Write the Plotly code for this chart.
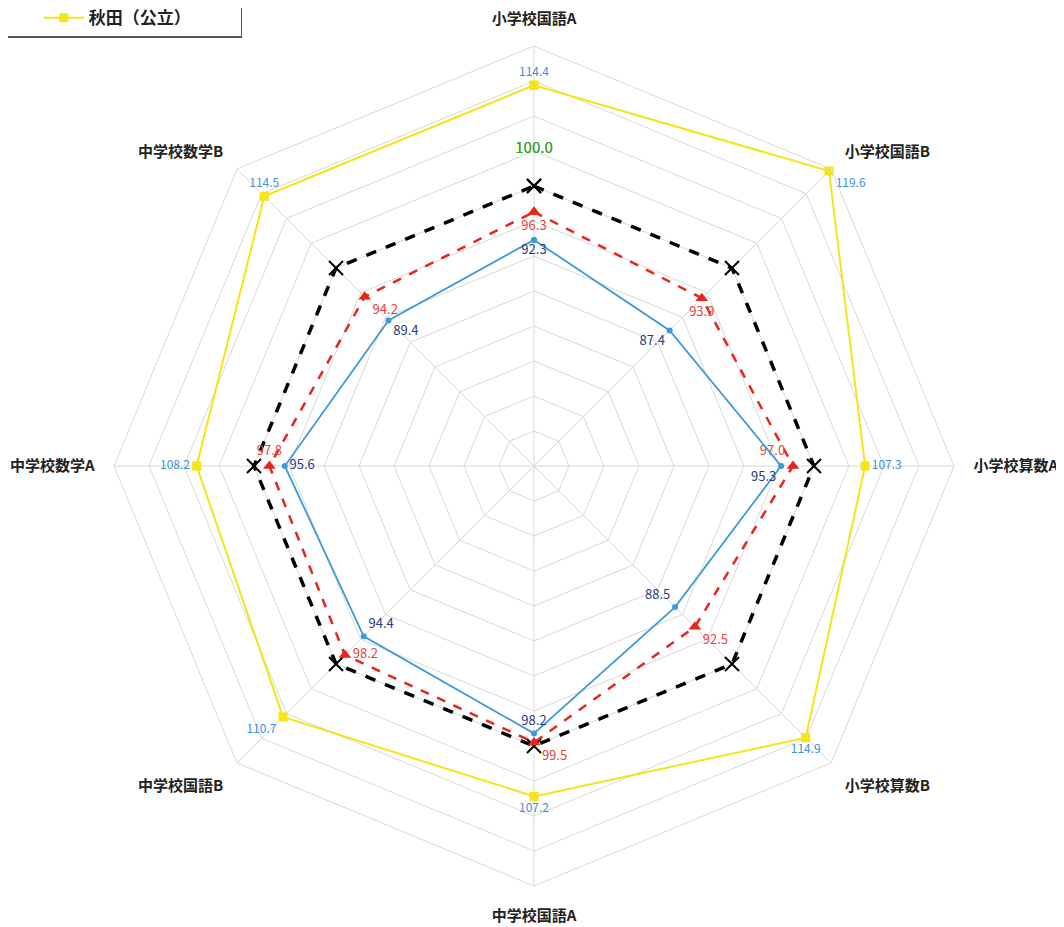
import plotly.graph_objects as go

categories = ["小学校国語A", "小学校国語B", "小学校算数A", "小学校算数B",
              "中学校国語A", "中学校国語B", "中学校数学A", "中学校数学B"]
national = [100.0, 100.0, 100.0, 100.0, 100.0, 100.0, 100.0, 100.0]
red_vals = [96.3, 93.9, 97.0, 92.5, 99.5, 98.2, 97.8, 94.2]
blue_vals = [92.3, 87.4, 95.3, 88.5, 98.2, 94.4, 95.6, 89.4]
akita_vals = [114.4, 119.6, 107.3, 114.9, 107.2, 110.7, 108.2, 114.5]

yellow_pos = ["top center", "bottom right", "middle right", "bottom center",
              "bottom center", "bottom left", "middle left", "top center"]
red_pos = ["bottom center", "bottom center", "top left", "bottom right",
           "bottom right", "middle right", "top center", "bottom right"]
blue_pos = ["bottom center", "bottom left", "bottom left", "top left",
            "top center", "top right", "middle right", "bottom right"]

def closed(v):
    return list(v) + [v[0]]

cats_c = closed(categories)
font_family = "Noto Sans CJK JP"

fig = go.Figure()

nat_text = ["100.0<br> "] + [""] * (len(categories) - 1)
fig.add_trace(go.Scatterpolar(
    r=closed(national), theta=cats_c, mode="lines+markers+text",
    line=dict(color="black", width=3.5, dash="dash"),
    marker=dict(symbol="x-thin", size=14, line=dict(color="black", width=2)),
    text=closed(nat_text), textposition="top center",
    textfont=dict(color="#3aa53a", size=15, family=font_family),
    showlegend=False, hoverinfo="skip"))

fig.add_trace(go.Scatterpolar(
    r=closed(red_vals), theta=cats_c, mode="lines+markers+text",
    line=dict(color="#e8241c", width=2.5, dash="dash"),
    marker=dict(symbol="triangle-up", size=11, color="#e8241c"),
    text=[f"{v:.1f}" for v in red_vals] + [""],
    textposition=red_pos + ["top center"],
    textfont=dict(color="#e8453c", size=13, family=font_family),
    showlegend=False, hoverinfo="skip"))

fig.add_trace(go.Scatterpolar(
    r=closed(blue_vals), theta=cats_c, mode="lines+markers+text",
    line=dict(color="#3d9ad8", width=1.8),
    marker=dict(symbol="circle", size=6, color="#3d9ad8"),
    text=[f"{v:.1f}" for v in blue_vals] + [""],
    textposition=blue_pos + ["top center"],
    textfont=dict(color="#2b3d80", size=13, family=font_family),
    showlegend=False, hoverinfo="skip"))

fig.add_trace(go.Scatterpolar(
    r=closed(akita_vals), theta=cats_c, mode="lines+markers+text",
    name="秋田（公立）",
    line=dict(color="#f5e418", width=2),
    marker=dict(symbol="square", size=9, color="#f5e418"),
    text=[f"{v:.1f}" for v in akita_vals] + [""],
    textposition=yellow_pos + ["top center"],
    textfont=dict(color="#3d8fd1", size=12, family=font_family),
    showlegend=True, hoverinfo="skip"))

grid_c = "#d8d8d8"
fig.update_layout(
    width=1064, height=927,
    margin=dict(l=106, r=118, t=38, b=49, autoexpand=False),
    paper_bgcolor="white",
    font=dict(family=font_family, color="black"),
    showlegend=True,
    polar=dict(
        bgcolor="white",
        gridshape="linear",
        domain=dict(x=[0, 1], y=[0, 1]),
        radialaxis=dict(range=[60, 120], dtick=5, tick0=60, showticklabels=False,
                        ticks="", showline=False, gridcolor=grid_c, gridwidth=1),
        angularaxis=dict(rotation=90, direction="clockwise", gridcolor=grid_c,
                         linecolor=grid_c, linewidth=1, ticks="outside", ticklen=16,
                         tickcolor="rgba(0,0,0,0)",
                         tickfont=dict(size=15, color="#222", family=font_family,
                                       weight="bold")),
    ),
    legend=dict(x=-0.145, y=1.01, xref="paper", yref="paper",
                xanchor="left", yanchor="bottom", orientation="h",
                bordercolor="#555", borderwidth=1.5, bgcolor="white",
                font=dict(size=17, color="#222", family=font_family, weight="bold"),
                indentation=45, entrywidth=147, itemwidth=40),
)

fig.write_html("out.html")
